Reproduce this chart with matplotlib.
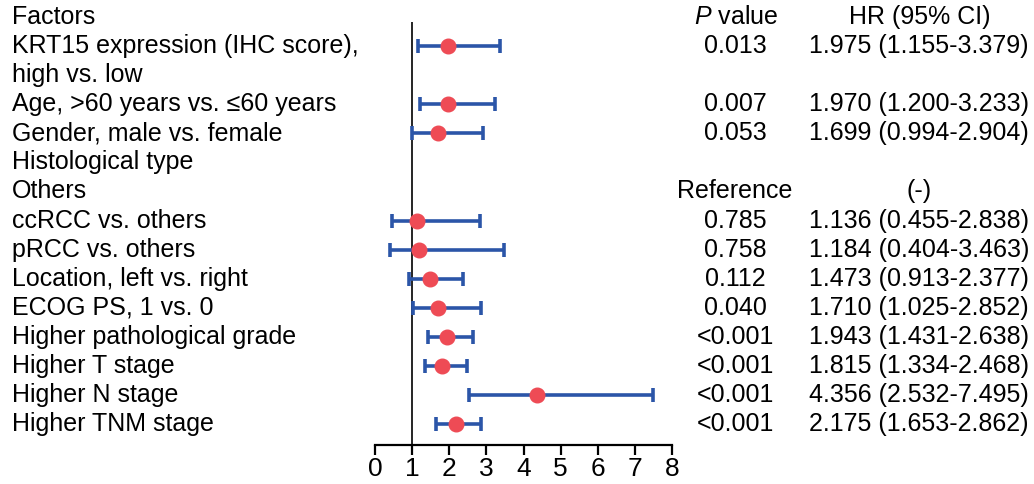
import matplotlib
matplotlib.use("Agg")
import matplotlib.pyplot as plt
import matplotlib.transforms as mtransforms

plt.rcParams['font.family'] = ['Liberation Sans', 'DejaVu Sans']
plt.rcParams['mathtext.fontset'] = 'custom'
plt.rcParams['mathtext.rm'] = 'Liberation Sans'
plt.rcParams['mathtext.it'] = 'Liberation Sans:italic'

# left column labels, one per row (top to bottom)
labels = ["Factors", "KRT15 expression (IHC score),", "high vs. low",
          "Age, >60 years vs. \u226460 years", "Gender, male vs. female",
          "Histological type", "Others", "ccRCC vs. others", "pRCC vs. others",
          "Location, left vs. right", "ECOG PS, 1 vs. 0",
          "Higher pathological grade", "Higher T stage", "Higher N stage",
          "Higher TNM stage"]

# right columns: (row, p value, HR text)
p_rows = [1, 3, 4, 6, 7, 8, 9, 10, 11, 12, 13, 14]
p_values = ["0.013", "0.007", "0.053", "Reference", "0.785", "0.758", "0.112",
            "0.040", "<0.001", "<0.001", "<0.001", "<0.001"]
hr_texts = ["1.975 (1.155-3.379)", "1.970 (1.200-3.233)", "1.699 (0.994-2.904)",
            "(-)", "1.136 (0.455-2.838)", "1.184 (0.404-3.463)",
            "1.473 (0.913-2.377)", "1.710 (1.025-2.852)", "1.943 (1.431-2.638)",
            "1.815 (1.334-2.468)", "4.356 (2.532-7.495)", "2.175 (1.653-2.862)"]

# forest plot values
hr_rows = [1, 3, 4, 7, 8, 9, 10, 11, 12, 13, 14]
hr = [1.975, 1.970, 1.699, 1.136, 1.184, 1.473, 1.710, 1.943, 1.815, 4.356, 2.175]
lo = [1.155, 1.200, 0.994, 0.455, 0.404, 0.913, 1.025, 1.431, 1.334, 2.532, 1.653]
hi = [3.379, 3.233, 2.904, 2.838, 3.463, 2.377, 2.852, 2.638, 2.468, 7.495, 2.862]

fs = 18

fig = plt.figure(figsize=(10.34, 4.84), dpi=100)
ax = fig.add_axes([375 / 1034, 1 - 445 / 484, 297 / 1034, 423 / 484])

ys = [-r for r in hr_rows]
xerr = [[h - l for h, l in zip(hr, lo)], [u - h for h, u in zip(hr, hi)]]
ax.errorbar(hr, ys, xerr=xerr, fmt='none', ecolor='#2b55a8', elinewidth=2.6,
            capsize=5, capthick=2.6, zorder=2)
ax.plot(hr, ys, 'o', color='#ee4b55', markersize=10.5, zorder=3)
ax.axvline(1, color='black', linewidth=1.2, zorder=1)

ax.set_xlim(0, 8)
ax.set_ylim(-14.72, -0.17)
ax.set_xticks(range(0, 9))
ax.set_yticks([])
for s in ['left', 'right', 'top']:
    ax.spines[s].set_visible(False)
ax.spines['bottom'].set_linewidth(1.6)
ax.tick_params(axis='x', direction='out', length=7, width=1.6, labelsize=19, pad=2)

trans = mtransforms.blended_transform_factory(fig.transFigure, ax.transData)
for i, lab in enumerate(labels):
    fig.text(12 / 1034, -i, lab, transform=trans, ha='left', va='center', fontsize=fs)

fig.text(736 / 1034, 0, "$P$ value", transform=trans, ha='center', va='center', fontsize=fs)
fig.text(920 / 1034, 0, "HR (95% CI)", transform=trans, ha='center', va='center', fontsize=fs)
for r, p, h in zip(p_rows, p_values, hr_texts):
    fig.text(735 / 1034, -r, p, transform=trans, ha='center', va='center', fontsize=fs)
    fig.text(919 / 1034, -r, h, transform=trans, ha='center', va='center', fontsize=fs)

fig.savefig("out.png", dpi=100)
